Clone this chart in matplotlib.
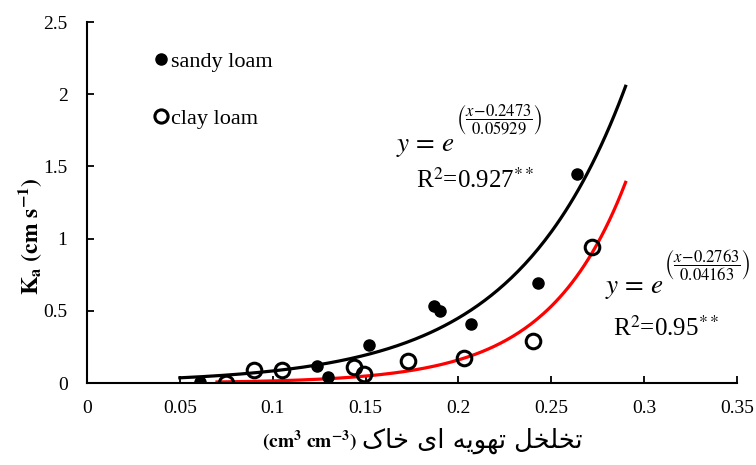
import numpy as np
import matplotlib
matplotlib.use('Agg')
import matplotlib.pyplot as plt
from matplotlib.ticker import FormatStrFormatter
from matplotlib.lines import Line2D
from matplotlib.transforms import offset_copy

plt.rcParams['font.family'] = ['Liberation Serif', 'DejaVu Sans']
plt.rcParams['mathtext.fontset'] = 'stix'

# data
sandy_x = [0.061, 0.124, 0.130, 0.152, 0.187, 0.190, 0.207, 0.243, 0.264]
sandy_y = [0.01, 0.12, 0.04, 0.26, 0.53, 0.50, 0.41, 0.69, 1.45]
clay_x = [0.075, 0.090, 0.105, 0.144, 0.149, 0.173, 0.203, 0.240, 0.272]
clay_y = [0.00, 0.09, 0.09, 0.11, 0.06, 0.15, 0.17, 0.29, 0.94]

# exponential fits y = exp((x - a) / b), drawn from x0 to x1
sandy_fit = (0.2473, 0.05929, 0.050, 0.290)
clay_fit = (0.2763, 0.04163, 0.070, 0.290)
sandy_r2 = '0.927'
clay_r2 = '0.95'

xticks = [0, 0.05, 0.1, 0.15, 0.2, 0.25, 0.3, 0.35]
yticks = [0, 0.5, 1, 1.5, 2, 2.5]

# simple persian shaping (presentation forms, visual order)
forms = {
    'ا': ('\uFE8D', '\uFE8E', None, None),
    'ت': ('\uFE95', '\uFE96', '\uFE97', '\uFE98'),
    'خ': ('\uFEA5', '\uFEA6', '\uFEA7', '\uFEA8'),
    'ل': ('\uFEDD', '\uFEDE', '\uFEDF', '\uFEE0'),
    'ه': ('\uFEE9', '\uFEEA', '\uFEEB', '\uFEEC'),
    'و': ('\uFEED', '\uFEEE', None, None),
    'ی': ('\uFBFC', '\uFBFD', '\uFBFE', '\uFBFF'),
    'ک': ('\uFB8E', '\uFB8F', '\uFB90', '\uFB91'),
}

def shape_fa(text):
    out = []
    for i, ch in enumerate(text):
        if ch not in forms:
            out.append(ch)
            continue
        prev = text[i-1] if i > 0 else ''
        nxt = text[i+1] if i + 1 < len(text) else ''
        jp = prev in forms and forms[prev][2] is not None
        jn = nxt in forms and forms[ch][2] is not None
        iso, fin, ini, med = forms[ch]
        if jp and jn:
            out.append(med)
        elif jp:
            out.append(fin)
        elif jn:
            out.append(ini)
        else:
            out.append(iso)
    return ''.join(reversed(out))

xlabel_fa = 'تخلخل تهویه ای خاک'

fig = plt.figure(figsize=(7.56, 4.65), dpi=100)
ax = fig.add_axes([87/756, 1-383/465, 650/756, 361/465])

for (a, b, x0, x1), col in [(sandy_fit, 'black'), (clay_fit, 'red')]:
    xx = np.linspace(x0, x1, 200)
    ax.plot(xx, np.exp((xx - a) / b), color=col, lw=2.3, zorder=2)

ax.plot(sandy_x, sandy_y, 'o', color='black', ms=8, zorder=3)
ax.plot(clay_x, clay_y, 'o', mfc='none', mec='black', mew=2.2, ms=10.5, zorder=3)

ax.set_xlim(0, 0.35)
ax.set_ylim(0, 2.5)
ax.set_xticks(xticks)
ax.set_yticks(yticks)
ax.xaxis.set_major_formatter(FormatStrFormatter('%g'))
ax.yaxis.set_major_formatter(FormatStrFormatter('%g'))
ax.tick_params(direction='in', length=5, width=1.3, labelsize=14)
ax.tick_params(axis='x', pad=12)
ax.tick_params(axis='y', pad=14)
for s in ['top', 'right']:
    ax.spines[s].set_visible(False)
for s in ['left', 'bottom']:
    ax.spines[s].set_linewidth(1.5)

handles = [
    Line2D([], [], ls='none', marker='o', color='black', ms=8),
    Line2D([], [], ls='none', marker='o', mfc='none', mec='black', mew=2.2, ms=9.5),
]
ax.legend(handles, ['sandy loam', 'clay loam'], loc='upper left',
          bbox_to_anchor=(0.073, 0.975), frameon=False, fontsize=16,
          handlelength=0.6, handletextpad=0.15, labelspacing=1.65)

# equations: "y = e" plus a separate exponent block
def equation(x, y, fit, r2, lift, r2x, r2y):
    a, b = fit[0], fit[1]
    ax.text(x, y, r'$y\,=\,e$', fontsize=19.5, ha='right', va='baseline')
    tr = offset_copy(ax.transData, fig=fig, x=0.3, y=lift, units='points')
    ax.text(x, y, r'$\left(\dfrac{x\!-\!%s}{%s}\right)$' % (a, b), fontsize=12,
            ha='left', va='center', transform=tr)
    ax.text(r2x, r2y, r'R$^2$=%s$^{**}$' % r2, fontsize=18, ha='center', va='center')

equation(0.1982, 1.604, sandy_fit, sandy_r2, 23, 0.209, 1.40)
equation(0.3105, 0.625, clay_fit, clay_r2, 20, 0.312, 0.38)

fig.text(30/756, 1-236/465, r'$\mathbf{K_a\ (cm\ s^{-1})}$', rotation=90,
         ha='center', va='center', fontsize=17)
fig.text(357/756, 1-441/465, r'$\mathbf{(cm^3\ cm^{-3})}$', ha='right',
         va='center', fontsize=14)
fig.text(362/756, 1-441/465, shape_fa(xlabel_fa), ha='left', va='center',
         fontsize=18.5, family='DejaVu Sans')

fig.savefig('out.png', dpi=100)
